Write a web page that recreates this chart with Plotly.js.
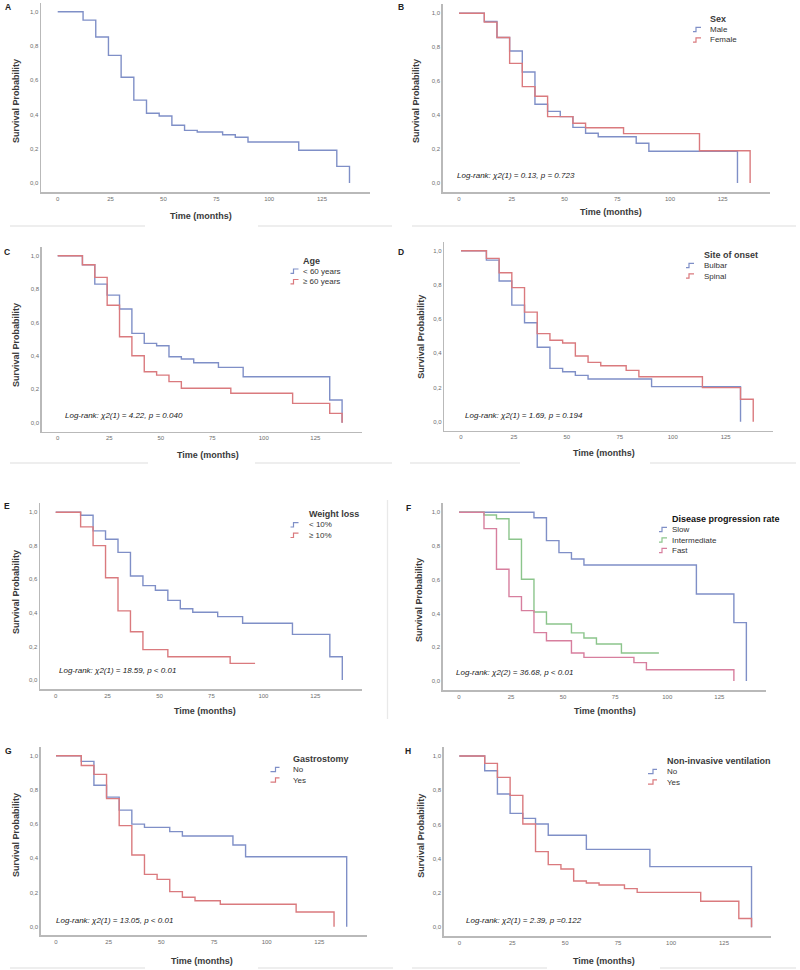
<!DOCTYPE html>
<html>
<head>
<meta charset="utf-8">
<script src="https://cdn.plot.ly/plotly-3.0.1.min.js"></script>
<style>
  html, body { margin: 0; padding: 0; background: #ffffff; }
  #chart { width: 800px; height: 970px; }
</style>
</head>
<body>
<div id="chart"></div>
<script>
// Kaplan-Meier survival estimates; each time (months) carries the survival just after it.
const overallTime = [0, 12, 18, 24, 30, 36, 42, 48, 54, 60, 66, 78, 84, 90, 114, 132, 138];
const overallSurv = [1, 0.951, 0.852, 0.745, 0.617, 0.484, 0.407, 0.391, 0.337, 0.307, 0.298, 0.282, 0.267, 0.239, 0.191, 0.097, 0];

const maleTime = [0, 12, 18, 24, 30, 36, 42, 48, 54, 60, 66, 84, 90, 132];
const maleSurv = [1, 0.952, 0.857, 0.778, 0.654, 0.464, 0.422, 0.391, 0.328, 0.293, 0.273, 0.234, 0.187, 0];
const femaleTime = [0, 12, 18, 24, 30, 36, 42, 54, 60, 78, 114, 138];
const femaleSurv = [1, 0.948, 0.857, 0.705, 0.568, 0.511, 0.391, 0.352, 0.326, 0.291, 0.19, 0];

const youngTime = [0, 12, 18, 24, 30, 36, 42, 48, 54, 60, 66, 78, 90, 132, 138];
const youngSurv = [1, 0.946, 0.830, 0.764, 0.681, 0.535, 0.475, 0.461, 0.395, 0.381, 0.359, 0.331, 0.275, 0.136, 0];
const olderTime = [0, 12, 18, 24, 30, 36, 42, 48, 54, 60, 84, 114, 132, 138];
const olderSurv = [1, 0.946, 0.870, 0.703, 0.515, 0.401, 0.305, 0.285, 0.246, 0.206, 0.176, 0.116, 0.056, 0];

const bulbarTime = [0, 12, 18, 24, 30, 36, 42, 48, 54, 60, 90, 132];
const bulbarSurv = [1, 0.945, 0.823, 0.682, 0.579, 0.435, 0.312, 0.292, 0.271, 0.250, 0.205, 0];
const spinalTime = [0, 12, 18, 24, 30, 36, 42, 48, 54, 60, 66, 78, 84, 114, 132, 138];
const spinalSurv = [1, 0.955, 0.871, 0.784, 0.641, 0.515, 0.476, 0.460, 0.384, 0.347, 0.327, 0.300, 0.263, 0.199, 0.131, 0];

const lowLossTime = [0, 12, 18, 24, 30, 36, 42, 48, 54, 60, 66, 78, 90, 114, 132, 138];
const lowLossSurv = [1, 0.982, 0.889, 0.839, 0.761, 0.620, 0.563, 0.535, 0.475, 0.425, 0.404, 0.378, 0.338, 0.272, 0.139, 0];
const highLossTime = [0, 12, 18, 24, 30, 36, 42, 54, 84, 96];
const highLossSurv = [1, 0.913, 0.801, 0.610, 0.412, 0.288, 0.181, 0.139, 0.099, 0.099];

const slowTime = [0, 36, 42, 48, 54, 60, 114, 132, 138];
const slowSurv = [1, 0.968, 0.832, 0.761, 0.723, 0.688, 0.516, 0.346, 0];
const interTime = [0, 12, 18, 24, 30, 36, 42, 54, 60, 66, 78, 96];
const interSurv = [1, 0.984, 0.962, 0.840, 0.603, 0.409, 0.338, 0.285, 0.255, 0.219, 0.166, 0.166];
const fastTime = [0, 12, 18, 24, 30, 36, 42, 54, 60, 84, 90, 132];
const fastSurv = [1, 0.903, 0.662, 0.500, 0.417, 0.287, 0.239, 0.166, 0.140, 0.109, 0.067, 0];

const gastroNoTime = [0, 12, 18, 24, 30, 36, 42, 54, 60, 84, 90, 138];
const gastroNoSurv = [1, 0.967, 0.827, 0.758, 0.682, 0.600, 0.581, 0.556, 0.530, 0.478, 0.409, 0];
const gastroYesTime = [0, 12, 18, 24, 30, 36, 42, 48, 54, 60, 66, 78, 114, 132];
const gastroYesSurv = [1, 0.943, 0.891, 0.749, 0.591, 0.419, 0.306, 0.277, 0.205, 0.172, 0.152, 0.131, 0.086, 0];

const nivNoTime = [0, 12, 18, 24, 30, 36, 42, 60, 90, 138];
const nivNoSurv = [1, 0.914, 0.778, 0.665, 0.636, 0.603, 0.537, 0.455, 0.354, 0];
const nivYesTime = [0, 12, 18, 24, 30, 36, 42, 48, 54, 60, 66, 78, 84, 114, 132, 138];
const nivYesSurv = [1, 0.957, 0.875, 0.770, 0.603, 0.442, 0.366, 0.340, 0.270, 0.259, 0.247, 0.226, 0.204, 0.152, 0.051, 0];

// Tick labels
const xTickVals = [0, 25, 50, 75, 100, 125];
const xTickText = ['0', '25', '50', '75', '100', '125'];
const yTickVals = [0, 0.2, 0.4, 0.6, 0.8, 1.0];
const yTickText = ['0,0', '0,2', '0,4', '0,6', '0,8', '1,0'];

// Group names and test results
const sexGroups = ['Male', 'Female'];
const ageGroups = ['&lt; 60 years', '≥ 60 years'];
const onsetGroups = ['Bulbar', 'Spinal'];
const weightGroups = ['&lt; 10%', '≥ 10%'];
const progressionGroups = ['Slow', 'Intermediate', 'Fast'];
const yesNoGroups = ['No', 'Yes'];
const logRankTests = {
  B: 'Log-rank: χ2(1) = 0.13, p = 0.723',
  C: 'Log-rank: χ2(1) = 4.22, p = 0.040',
  D: 'Log-rank: χ2(1) = 1.69, p = 0.194',
  E: 'Log-rank: χ2(1) = 18.59, p &lt; 0.01',
  F: 'Log-rank: χ2(2) = 36.68, p &lt; 0.01',
  G: 'Log-rank: χ2(1) = 13.05, p &lt; 0.01',
  H: 'Log-rank: χ2(1) = 2.39, p =0.122'
};

const W = 800, H = 970;
const px = x => x / W;
const py = y => 1 - y / H;

const BLUE = '#7f8fc7', RED = '#da7a7e', GREEN = '#8cc58c', PINK = '#d77f9e';
const FONT = '"Liberation Sans", Arial, sans-serif';

// Panel geometry in page pixels: axis lines (L, R, B) and tick positions for 0/125 months and 0/1 survival.
const panels = [
  { id: 'A', box: { L: 41, R: 370, B: 192, x0: 57.7, x125: 322, y0: 183, y1: 11.7 },
    letter: [3, 7], xTitle: [201, 216], yTitle: [16, 101],
    series: [{ t: overallTime, s: overallSurv, color: BLUE }], legend: null },
  { id: 'B', box: { L: 442.7, R: 770, B: 192.3, x0: 459, x125: 722.7, y0: 183, y1: 13.3 },
    letter: [396, 7], xTitle: [611, 212], yTitle: [416, 101], test: [455, 175],
    series: [{ t: maleTime, s: maleSurv, color: BLUE }, { t: femaleTime, s: femaleSurv, color: RED }],
    legend: { title: 'Sex', names: sexGroups, x: 708, y: 19, icon: 693 } },
  { id: 'C', box: { L: 41.7, R: 361.7, B: 431.7, x0: 57.7, x125: 315.3, y0: 422.7, y1: 255.7 },
    letter: [2, 251.7], xTitle: [208, 455], yTitle: [16, 345], test: [63, 415],
    series: [{ t: youngTime, s: youngSurv, color: BLUE }, { t: olderTime, s: olderSurv, color: RED }],
    legend: { title: 'Age', names: ageGroups, x: 301, y: 260.7, icon: 290.5 } },
  { id: 'D', box: { L: 444.3, R: 772.7, B: 430.7, x0: 461, x125: 725.7, y0: 421.7, y1: 250.7 },
    letter: [396, 251.7], xTitle: [604, 453], yTitle: [420.7, 337], test: [463, 415.7],
    series: [{ t: bulbarTime, s: bulbarSurv, color: BLUE }, { t: spinalTime, s: spinalSurv, color: RED }],
    legend: { title: 'Site of onset', names: onsetGroups, x: 701.7, y: 255, icon: 686 } },
  { id: 'E', box: { L: 40, R: 362.3, B: 689.3, x0: 55.7, x125: 315.3, y0: 680, y1: 512.3 },
    letter: [2, 506], xTitle: [205, 711], yTitle: [16, 592], test: [57.3, 670],
    series: [{ t: lowLossTime, s: lowLossSurv, color: BLUE }, { t: highLossTime, s: highLossSurv, color: RED }],
    legend: { title: 'Weight loss', names: weightGroups, x: 306.7, y: 514.3, icon: 290.5 } },
  { id: 'F', box: { L: 442.7, R: 765.7, B: 690, x0: 459, x125: 719.3, y0: 681, y1: 512.3 },
    letter: [404, 508.3], xTitle: [605, 711], yTitle: [419, 600], test: [454, 672.7],
    series: [{ t: slowTime, s: slowSurv, color: BLUE }, { t: interTime, s: interSurv, color: GREEN },
             { t: fastTime, s: fastSurv, color: PINK }],
    legend: { title: 'Disease progression rate', names: progressionGroups, x: 670, y: 519, icon: 659, bigTitle: true } },
  { id: 'G', box: { L: 40.7, R: 366.7, B: 935, x0: 56, x125: 319.3, y0: 926.7, y1: 755.7 },
    letter: [3, 750.7], xTitle: [201.7, 960.7], yTitle: [16, 835], test: [54, 920],
    series: [{ t: gastroNoTime, s: gastroNoSurv, color: BLUE }, { t: gastroYesTime, s: gastroYesSurv, color: RED }],
    legend: { title: 'Gastrostomy', names: yesNoGroups, x: 291, y: 759, icon: 270.5, wideIcon: true } },
  { id: 'H', box: { L: 443.7, R: 771, B: 936, x0: 459.3, x125: 724, y0: 927.3, y1: 756 },
    letter: [403, 750.7], xTitle: [604, 960.7], yTitle: [420.7, 836], test: [464, 920],
    series: [{ t: nivNoTime, s: nivNoSurv, color: BLUE }, { t: nivYesTime, s: nivYesSurv, color: RED }],
    legend: { title: 'Non-invasive ventilation', names: yesNoGroups, x: 665, y: 761, icon: 648, wideIcon: true } }
];

const data = [];
const layout = {
  width: W, height: H,
  margin: { l: 0, r: 0, t: 0, b: 0 },
  paper_bgcolor: '#ffffff', plot_bgcolor: 'rgba(0,0,0,0)',
  showlegend: false,
  font: { family: FONT, color: '#333333' },
  annotations: [], shapes: []
};

function addText(text, x, y, size, opts) {
  layout.annotations.push(Object.assign({
    text: text, xref: 'paper', yref: 'paper', x: px(x), y: py(y),
    xanchor: 'left', yanchor: 'middle', showarrow: false,
    font: { family: FONT, size: size, color: '#333333' }
  }, opts || {}));
}

panels.forEach((p, i) => {
  const n = i + 1;
  const b = p.box;
  const k = (b.x125 - b.x0) / 125;
  const m = b.y0 - b.y1;
  const T = b.y1 - 0.053 * m;
  const xa = 'xaxis' + (n === 1 ? '' : n), ya = 'yaxis' + (n === 1 ? '' : n);
  const xid = 'x' + (n === 1 ? '' : n), yid = 'y' + (n === 1 ? '' : n);

  layout[xa] = {
    domain: [px(b.L), px(b.R)], anchor: yid,
    range: [(b.L - b.x0) / k, (b.R - b.x0) / k],
    tickvals: xTickVals, ticktext: xTickText, ticks: '',
    tickfont: { family: FONT, size: 6, color: '#6e6e6e' },
    showgrid: false, zeroline: false, showline: true,
    linecolor: '#b9b9b9', linewidth: 1.5, fixedrange: true
  };
  layout[ya] = {
    domain: [py(b.B), py(T)], anchor: xid,
    range: [(b.y0 - b.B) / m, (b.y0 - T) / m],
    tickvals: yTickVals, ticktext: yTickText, ticks: '',
    tickfont: { family: FONT, size: 6, color: '#6e6e6e' },
    showgrid: false, zeroline: false, showline: true,
    linecolor: '#b9b9b9', linewidth: 1.5, fixedrange: true
  };

  p.series.forEach(s => {
    data.push({
      type: 'scatter', mode: 'lines', x: s.t, y: s.s,
      line: { shape: 'hv', color: s.color, width: 1.4 },
      xaxis: xid, yaxis: yid, hoverinfo: 'skip'
    });
  });

  // panel letter and axis titles
  addText('<b>' + p.id + '</b>', p.letter[0], p.letter[1], 8.5, { font: { family: FONT, size: 8.5, color: '#222222' } });
  addText('<b>Time (months)</b>', p.xTitle[0], p.xTitle[1], 9, { xanchor: 'center', font: { family: FONT, size: 9, color: '#3a3a3a' } });
  addText('<b>Survival Probability</b>', p.yTitle[0], p.yTitle[1], 9, { xanchor: 'center', textangle: -90, font: { family: FONT, size: 9, color: '#3a3a3a' } });

  if (p.test) {
    addText('<i>' + logRankTests[p.id] + '</i>', p.test[0], p.test[1], 8, { font: { family: FONT, size: 8, color: '#222222' } });
  }

  if (p.legend) {
    const lg = p.legend;
    addText('<b>' + lg.title + '</b>', lg.x, lg.y, 9, { font: { family: FONT, size: 9, color: lg.bigTitle ? '#111111' : '#3a3a3a' } });
    lg.names.forEach((name, j) => {
      const y = lg.y + 10.5 * (j + 1);
      addText(name, lg.x, y, 8, { font: { family: FONT, size: 8, color: '#333333' } });
      const x0 = lg.icon, xm = x0 + (lg.wideIcon ? 5 : 3), x1 = x0 + (lg.wideIcon ? 9 : 8);
      const yb = y + 2.2, yt = y - 2.2;
      layout.shapes.push({
        type: 'path', xref: 'paper', yref: 'paper',
        path: `M ${px(x0)},${py(yb)} L ${px(xm)},${py(yb)} L ${px(xm)},${py(yt)} L ${px(x1)},${py(yt)}`,
        line: { color: p.series[j].color, width: 1.2 }
      });
    });
  }
});

// faint frame remnants between the panels
const rules = [
  [10, 226, 145, 226], [258, 226, 392, 226], [412, 226, 796, 226],
  [10, 463, 148, 463], [255, 463, 392, 463], [410, 463, 520, 463], [650, 463, 796, 463],
  [10, 968, 145, 968], [258, 968, 393, 968], [412, 968, 547, 968], [660, 968, 796, 968],
  [387.5, 500, 387.5, 719]
];
rules.forEach(r => {
  layout.shapes.push({
    type: 'line', xref: 'paper', yref: 'paper',
    x0: px(r[0]), y0: py(r[1]), x1: px(r[2]), y1: py(r[3]),
    line: { color: '#e9e9e9', width: 1.3 }
  });
});

Plotly.newPlot('chart', data, layout, { displayModeBar: false, staticPlot: true });
</script>
</body>
</html>
